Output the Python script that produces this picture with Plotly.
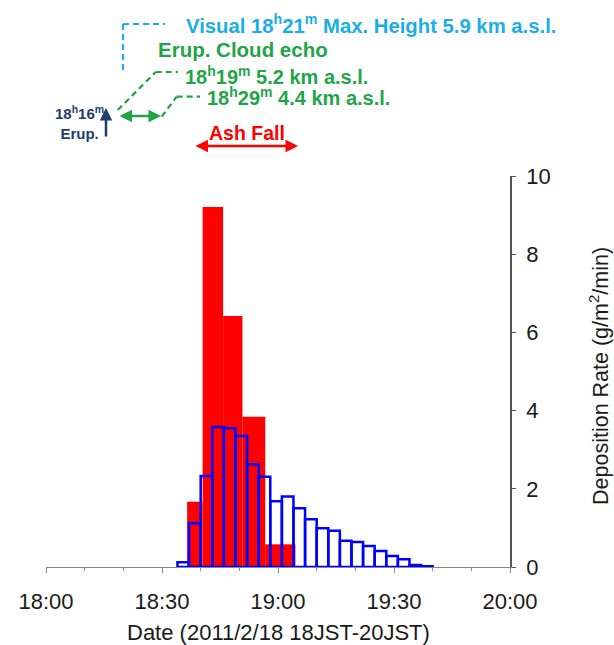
import plotly.graph_objects as go

# ---- data (minutes after 18:00 JST) ----
red_edges = [36.5, 40.5, 45.8, 50.8, 56.7, 64.5]          # observed ash-fall sampling intervals
red_values = [1.67, 9.21, 6.42, 3.84, 0.58]                # g/m2/min
blue_start = 34                                            # first 3-min bin start
blue_bin = 3
blue_values = [0.12, 1.12, 2.33, 3.58, 3.55, 3.35, 2.63, 2.31, 1.68, 1.80, 1.50,
               1.22, 0.99, 0.93, 0.67, 0.64, 0.54, 0.41, 0.28, 0.20, 0.05, 0.02]
x_tick_vals = [0, 30, 60, 90, 120]
x_tick_text = ["18:00", "18:30", "19:00", "19:30", "20:00"]
y_tick_vals = [0, 2, 4, 6, 8, 10]

red_x = [(a + b) / 2 for a, b in zip(red_edges[:-1], red_edges[1:])]
red_w = [b - a for a, b in zip(red_edges[:-1], red_edges[1:])]
blue_x = [blue_start + blue_bin * (i + 0.5) for i in range(len(blue_values))]

W, H = 614, 645
L, R, T, B = 46, 104, 176, 78
PW, PH = W - L - R, H - T - B


def px(xp):
    return (xp - L) / PW


def py(yp):
    return (H - B - yp) / PH


FONT = "Arial, Liberation Sans, sans-serif"
LBLUE = "#1BADE8"
GREEN = "#1FA548"
NAVY = "#1F3D6E"
RED = "#FF0000"

fig = go.Figure()
fig.add_trace(go.Bar(x=red_x, y=red_values, width=red_w,
                     marker=dict(color=RED, line=dict(width=0)), showlegend=False))
fig.add_trace(go.Bar(x=blue_x, y=blue_values, width=[blue_bin] * len(blue_values),
                     marker=dict(color="rgba(0,0,0,0)", line=dict(color="#0000FF", width=2.5)),
                     showlegend=False))

shapes = []


def seg(x0, y0, x1, y1, color, width=2.2, dash="6px,4px"):
    shapes.append(dict(type="line", xref="paper", yref="paper",
                       x0=px(x0), y0=py(y0), x1=px(x1), y1=py(y1),
                       line=dict(color=color, width=width, dash=dash)))


# light blue dashed bracket
seg(123, 24, 165, 24, LBLUE)
seg(123, 24, 123, 70, LBLUE)
# green dashed leaders
seg(117.7, 110, 155.7, 72, GREEN)
seg(155.7, 72, 178, 72, GREEN)
seg(161.7, 116.7, 176.7, 96.7, GREEN)
seg(176.7, 96.7, 200, 96.7, GREEN)

ann = []


def text(xp, yp, s, color, size, xanchor="left"):
    ann.append(dict(xref="paper", yref="paper", x=px(xp), y=py(yp), text=s,
                    showarrow=False, xanchor=xanchor, yanchor="middle",
                    font=dict(family=FONT, size=size, color=color)))


def arrow(x0, y0, x1, y1, color, width, both=False):
    ann.append(dict(xref="paper", yref="paper", x=px(x1), y=py(y1),
                    ax=x0 - x1, ay=y0 - y1, axref="pixel", ayref="pixel",
                    text="", showarrow=True, arrowhead=2, startarrowhead=2,
                    arrowside="end+start" if both else "end",
                    arrowsize=1, startarrowsize=1, arrowwidth=width,
                    arrowcolor=color, standoff=0, startstandoff=0))


text(184, 24, "<b>Visual 18<sup>h</sup>21<sup>m</sup> Max. Height 5.9 km a.s.l.</b>", LBLUE, 20.3)
text(156, 49, "<b>Erup. Cloud echo</b>", GREEN, 20.5)
text(183, 75, "<b>18<sup>h</sup>19<sup>m</sup> 5.2 km a.s.l.</b>", GREEN, 20)
text(205, 97, "<b>18<sup>h</sup>29<sup>m</sup> 4.4 km a.s.l.</b>", GREEN, 20)
text(79, 122, "<b>18<sup>h</sup>16<sup>m</sup><br>Erup.</b>", NAVY, 15, xanchor="center")
text(247, 133, "<b>Ash Fall</b>", RED, 19.5, xanchor="center")

arrow(106, 138, 106, 108, NAVY, 2.5)
arrow(118, 116, 161, 116, GREEN, 2.5, both=True)
arrow(194, 146, 298, 146, RED, 2.5, both=True)

# axis titles
ann.append(dict(xref="paper", yref="paper", x=px(278), y=py(632),
                text="Date (2011/2/18 18JST-20JST)", showarrow=False,
                xanchor="center", yanchor="middle",
                font=dict(family=FONT, size=22, color="#1a1a1a")))
ann.append(dict(xref="paper", yref="paper", x=px(599), y=py(376),
                text="Deposition Rate (g/m<sup>2</sup>/min)", showarrow=False,
                textangle=-90, xanchor="center", yanchor="middle",
                font=dict(family=FONT, size=21.5, color="#1a1a1a")))

fig.update_layout(
    width=W, height=H, margin=dict(l=L, r=R, t=T, b=B, autoexpand=False),
    paper_bgcolor="white", plot_bgcolor="white", barmode="overlay",
    font=dict(family=FONT, size=22, color="#1a1a1a"),
    shapes=shapes, annotations=ann,
    xaxis=dict(range=[0, 120], tickvals=x_tick_vals, ticktext=x_tick_text,
               showgrid=False, zeroline=False, showline=True, linecolor="#888888",
               linewidth=1, ticks="outside", ticklen=5, tickcolor="#888888",
               ticklabelstandoff=10,
               minor=dict(dtick=10, ticks="outside", ticklen=3, tickcolor="#888888"),
               tickfont=dict(size=22)),
    yaxis=dict(range=[0, 10], tickvals=y_tick_vals, side="right",
               showgrid=False, zeroline=False, showline=True, linecolor="#555555",
               linewidth=1.5, ticks="outside", ticklen=4, tickcolor="#555555",
               ticklabelstandoff=6, tickfont=dict(size=22)),
)

fig.write_html("out.html", config={"displayModeBar": False},
               post_script="document.body.style.margin='0';document.body.style.overflow='hidden';")
